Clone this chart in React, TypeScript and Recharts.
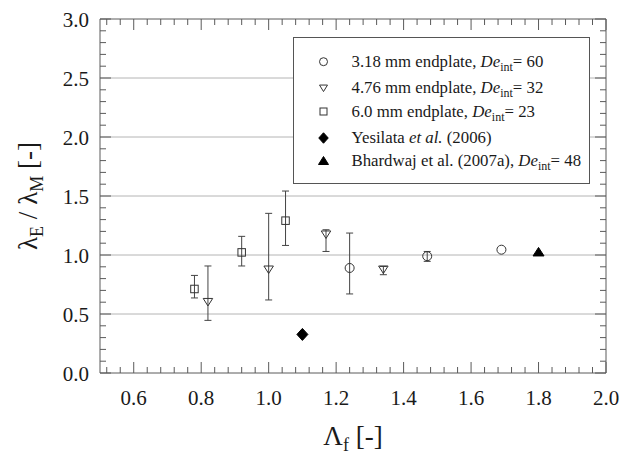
import React from 'react';
import { ScatterChart, Scatter, XAxis, YAxis, ErrorBar, ReferenceLine, Legend } from 'recharts';

// ---- axis ticks ----
const xMajorTicks = [0.6, 0.8, 1.0, 1.2, 1.4, 1.6, 1.8, 2.0];
const yMajorTicks = [0.0, 0.5, 1.0, 1.5, 2.0, 2.5, 3.0];
const gridValues = [0.5, 1.0, 1.5, 2.0, 2.5];
const xDomain = [0.5, 2.0];
const yDomain = [0.0, 3.0];

// ---- 3.18 mm endplate, De_int = 60 ----
const ep318X = [1.24, 1.47, 1.69];
const ep318Y = [0.89, 0.99, 1.045];
const ep318Low = [0.67, 0.946, null];
const ep318High = [1.186, 1.03, null];

// ---- 4.76 mm endplate, De_int = 32 ----
const ep476X = [0.82, 1.0, 1.17, 1.34];
const ep476Y = [0.6, 0.875, 1.172, 0.875];
const ep476Low = [0.446, 0.619, 1.03, 0.833];
const ep476High = [0.907, 1.353, 1.214, 0.903];

// ---- 6.0 mm endplate, De_int = 23 ----
const ep60X = [0.78, 0.92, 1.05];
const ep60Y = [0.712, 1.022, 1.291];
const ep60Low = [0.636, 0.907, 1.081];
const ep60High = [0.827, 1.158, 1.542];

// ---- Yesilata et al. (2006) ----
const yesX = [1.1];
const yesY = [0.327];

// ---- Bhardwaj et al. (2007a), De_int = 48 ----
const bhaX = [1.8];
const bhaY = [1.028];

const build = (xs: number[], ys: number[], lo?: (number | null)[], hi?: (number | null)[]) =>
  xs.map((x, i) => {
    const l = lo ? lo[i] : null;
    const h = hi ? hi[i] : null;
    return {
      x,
      y: ys[i],
      err: l != null && h != null ? [ys[i] - l, h - ys[i]] : null,
    };
  });

const data318 = build(ep318X, ep318Y, ep318Low, ep318High);
const data476 = build(ep476X, ep476Y, ep476Low, ep476High);
const data60 = build(ep60X, ep60Y, ep60Low, ep60High);
const dataYes = build(yesX, yesY);
const dataBha = build(bhaX, bhaY);

// minor ticks: each major interval split into 5, anchored on the major ticks
const minorTicks = (majors: number[], lo: number, hi: number) => {
  const step = (majors[1] - majors[0]) / 5;
  const out: number[] = [];
  const start = majors[0];
  const nBack = Math.floor((start - lo) / step + 1e-9);
  const nFwd = Math.floor((hi - start) / step + 1e-9);
  for (let i = -nBack; i <= nFwd; i++) out.push(Math.round((start + i * step) * 1000) / 1000);
  return out;
};
const xAllTicks = minorTicks(xMajorTicks, xDomain[0], xDomain[1]).filter((v) => v > xDomain[0] + 1e-9);
const yAllTicks = minorTicks(yMajorTicks, yDomain[0], yDomain[1]);

const FONT = '"Liberation Serif", serif';
const AXIS = '#5a5a5a';
const MARK = '#333';
const TXT = '#1a1a1a';

const isMajor = (v: number, list: number[]) => list.some((m) => Math.abs(m - v) < 1e-6);

const BottomTick = (p: any) => {
  const { x, y, payload } = p;
  const v = payload.value;
  const major = isMajor(v, xMajorTicks);
  return (
    <g>
      <line x1={x} x2={x} y1={y} y2={y - (major ? 11 : 6)} stroke={AXIS} strokeWidth={1} />
      {major && (
        <text x={x} y={y + 32} textAnchor="middle" style={{ fontFamily: FONT, fontSize: 21 }} fill={TXT}>
          {v.toFixed(1)}
        </text>
      )}
    </g>
  );
};

const TopTick = (p: any) => {
  const { x, y, payload } = p;
  const major = isMajor(payload.value, xMajorTicks);
  return <line x1={x} x2={x} y1={y} y2={y + (major ? 11 : 6)} stroke={AXIS} strokeWidth={1} />;
};

const LeftTick = (p: any) => {
  const { x, y, payload } = p;
  const v = payload.value;
  const major = isMajor(v, yMajorTicks);
  return (
    <g>
      <line x1={x} x2={x + (major ? 11 : 6)} y1={y} y2={y} stroke={AXIS} strokeWidth={1} />
      {major && (
        <text x={x - 11} y={y + 7.5} textAnchor="end" style={{ fontFamily: FONT, fontSize: 21 }} fill={TXT}>
          {v.toFixed(1)}
        </text>
      )}
    </g>
  );
};

const RightTick = (p: any) => {
  const { x, y, payload } = p;
  const major = isMajor(payload.value, yMajorTicks);
  return <line x1={x} x2={x - (major ? 11 : 6)} y1={y} y2={y} stroke={AXIS} strokeWidth={1} />;
};

const YLabel = (p: any) => {
  const vb = p.viewBox || { x: 0, y: 19, width: 100, height: 354 };
  const cx = vb.x + 37;
  const cy = vb.y + vb.height / 2;
  return (
    <text
      x={cx}
      y={cy}
      transform={`rotate(-90, ${cx}, ${cy})`}
      textAnchor="middle"
      style={{ fontFamily: FONT, fontSize: 27 }}
      fill={TXT}
    >
      λ<tspan style={{ fontSize: 18 }} dy={6}>E</tspan>
      <tspan dy={-6}> / λ</tspan>
      <tspan style={{ fontSize: 18 }} dy={6}>M</tspan>
      <tspan dy={-6}> [-]</tspan>
    </text>
  );
};

const XLabel = (p: any) => {
  const vb = p.viewBox || { x: 100, y: 373, width: 506, height: 87 };
  const cx = vb.x + vb.width / 2;
  const cy = vb.y + 72;
  return (
    <text x={cx} y={cy} textAnchor="middle" style={{ fontFamily: FONT, fontSize: 27 }} fill={TXT}>
      Λ<tspan style={{ fontSize: 18 }} dy={6}>f</tspan>
      <tspan dy={-6}> [-]</tspan>
    </text>
  );
};

// ---- marker shapes ----
const CircleMark = ({ cx, cy, r = 4.5 }: any) => (
  <circle cx={cx} cy={cy} r={r} fill="none" stroke={MARK} strokeWidth={1} />
);
const SquareMark = ({ cx, cy, s = 7.5 }: any) => (
  <rect x={cx - s / 2} y={cy - s / 2} width={s} height={s} fill="none" stroke={MARK} strokeWidth={1} />
);
const DownTriMark = ({ cx, cy, w = 9.5, h = 7.5 }: any) => (
  <polygon
    points={`${cx - w / 2},${cy - h / 2} ${cx + w / 2},${cy - h / 2} ${cx},${cy + h / 2}`}
    fill="none"
    stroke={MARK}
    strokeWidth={1}
  />
);
const DiamondMark = ({ cx, cy, w = 11, h = 12 }: any) => (
  <polygon
    points={`${cx},${cy - h / 2} ${cx + w / 2},${cy} ${cx},${cy + h / 2} ${cx - w / 2},${cy}`}
    fill="#000"
    stroke="#000"
    strokeWidth={1}
  />
);
const UpTriMark = ({ cx, cy, w = 11, h = 8.5 }: any) => (
  <polygon
    points={`${cx - w / 2},${cy + h / 2} ${cx + w / 2},${cy + h / 2} ${cx},${cy - h / 2}`}
    fill="#000"
    stroke="#000"
    strokeWidth={1}
  />
);

const LegendBox = () => {
  const sx = 29.5;
  const tx = 57.5;
  const base = [28.7, 55.3, 78.5, 105, 127.5];
  const subStyle = { fontSize: 12 };
  const sdy = 4;
  const ts = { fontFamily: FONT, fontSize: 16.8 };
  return (
    <div
      style={{
        width: 297,
        height: 147,
        background: '#fff',
        border: '1px solid #555',
        boxSizing: 'border-box',
      }}
    >
      <svg width={295} height={145} style={{ display: 'block' }}>
        <CircleMark cx={sx} cy={base[0] - 5} r={4} />
        <text x={tx} y={base[0]} style={ts} fill={TXT}>
          3.18 mm endplate, <tspan fontStyle="italic">De</tspan>
          <tspan style={subStyle} dy={sdy}>int</tspan>
          <tspan dy={-sdy}>= 60</tspan>
        </text>
        <DownTriMark cx={sx} cy={base[1] - 5} w={8} h={6.5} />
        <text x={tx} y={base[1]} style={ts} fill={TXT}>
          4.76 mm endplate, <tspan fontStyle="italic">De</tspan>
          <tspan style={subStyle} dy={sdy}>int</tspan>
          <tspan dy={-sdy}>= 32</tspan>
        </text>
        <SquareMark cx={sx} cy={base[2] - 5} s={7} />
        <text x={tx} y={base[2]} style={ts} fill={TXT}>
          6.0 mm endplate, <tspan fontStyle="italic">De</tspan>
          <tspan style={subStyle} dy={sdy}>int</tspan>
          <tspan dy={-sdy}>= 23</tspan>
        </text>
        <DiamondMark cx={sx} cy={base[3] - 5} w={9.5} h={10.5} />
        <text x={tx} y={base[3]} style={ts} fill={TXT}>
          Yesilata <tspan fontStyle="italic">et al.</tspan> (2006)
        </text>
        <UpTriMark cx={sx} cy={base[4] - 5} w={10} h={8} />
        <text x={tx} y={base[4]} style={ts} fill={TXT}>
          Bhardwaj et al. (2007a), <tspan fontStyle="italic">De</tspan>
          <tspan style={subStyle} dy={sdy}>int</tspan>
          <tspan dy={-sdy}>= 48</tspan>
        </text>
      </svg>
    </div>
  );
};

export default function App() {
  return (
    <div style={{ position: 'absolute', left: 0, top: 0, width: 621, height: 460, background: '#fff' }}>
      <ScatterChart width={621} height={460} margin={{ top: 18, right: 14, bottom: 0, left: 0 }}>
        <XAxis
          xAxisId="b"
          type="number"
          dataKey="x"
          orientation="bottom"
          domain={xDomain}
          allowDataOverflow
          ticks={xAllTicks}
          interval={0}
          tick={<BottomTick />}
          tickLine={false}
          tickSize={0}
          tickMargin={0}
          height={87}
          axisLine={{ stroke: AXIS, strokeWidth: 1 }}
          label={XLabel}
        />
        <XAxis
          xAxisId="t"
          type="number"
          dataKey="x"
          orientation="top"
          domain={xDomain}
          allowDataOverflow
          ticks={xAllTicks}
          interval={0}
          tick={<TopTick />}
          tickLine={false}
          tickSize={0}
          tickMargin={0}
          height={1}
          axisLine={{ stroke: AXIS, strokeWidth: 1 }}
        />
        <YAxis
          yAxisId="l"
          type="number"
          dataKey="y"
          orientation="left"
          domain={yDomain}
          allowDataOverflow
          ticks={yAllTicks}
          interval={0}
          tick={<LeftTick />}
          tickLine={false}
          tickSize={0}
          tickMargin={0}
          width={100}
          axisLine={{ stroke: AXIS, strokeWidth: 1 }}
          label={YLabel}
        />
        <YAxis
          yAxisId="r"
          type="number"
          dataKey="y"
          orientation="right"
          domain={yDomain}
          allowDataOverflow
          ticks={yAllTicks}
          interval={0}
          tick={<RightTick />}
          tickLine={false}
          tickSize={0}
          tickMargin={0}
          width={1}
          axisLine={{ stroke: AXIS, strokeWidth: 1 }}
        />
        {gridValues.map((v) => (
          <ReferenceLine key={v} y={v} xAxisId="b" yAxisId="l" stroke="#b4b4b4" strokeWidth={1} />
        ))}
        <Scatter
          name="3.18 mm endplate"
          data={data318}
          xAxisId="b"
          yAxisId="l"
          isAnimationActive={false}
          shape={(p: any) => <CircleMark cx={p.cx} cy={p.cy} />}
        >
          <ErrorBar dataKey="err" direction="y" width={3.5} stroke="#444" strokeWidth={1} />
        </Scatter>
        <Scatter
          name="4.76 mm endplate"
          data={data476}
          xAxisId="b"
          yAxisId="l"
          isAnimationActive={false}
          shape={(p: any) => <DownTriMark cx={p.cx} cy={p.cy} />}
        >
          <ErrorBar dataKey="err" direction="y" width={3.5} stroke="#444" strokeWidth={1} />
        </Scatter>
        <Scatter
          name="6.0 mm endplate"
          data={data60}
          xAxisId="b"
          yAxisId="l"
          isAnimationActive={false}
          shape={(p: any) => <SquareMark cx={p.cx} cy={p.cy} />}
        >
          <ErrorBar dataKey="err" direction="y" width={3.5} stroke="#444" strokeWidth={1} />
        </Scatter>
        <Scatter
          name="Yesilata et al. (2006)"
          data={dataYes}
          xAxisId="b"
          yAxisId="l"
          isAnimationActive={false}
          shape={(p: any) => <DiamondMark cx={p.cx} cy={p.cy} />}
        />
        <Scatter
          name="Bhardwaj et al. (2007a)"
          data={dataBha}
          xAxisId="b"
          yAxisId="l"
          isAnimationActive={false}
          shape={(p: any) => <UpTriMark cx={p.cx} cy={p.cy} />}
        />
        <Legend
          layout="vertical"
          align="center"
          verticalAlign="middle"
          content={<LegendBox />}
          wrapperStyle={{ position: 'absolute', left: 293, top: 37, width: 297, height: 147 }}
        />
      </ScatterChart>
    </div>
  );
}
